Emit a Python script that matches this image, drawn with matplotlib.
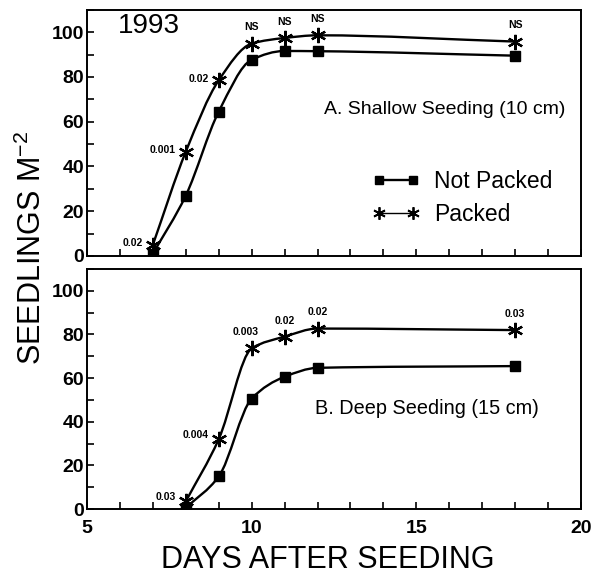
import numpy as np
import matplotlib.pyplot as plt
from matplotlib.path import Path
from matplotlib.patches import PathPatch
from matplotlib.lines import Line2D
from matplotlib.ticker import MultipleLocator

plt.rcParams['font.family'] = ['Liberation Sans', 'DejaVu Sans']

# shallow seeding (10 cm)
days_a = [7, 8, 9, 10, 11, 12, 18]
notpacked_a = [1, 27, 64.5, 87.7, 91.6, 91.5, 89.5]
packed_a = [5, 46.6, 78.5, 94.9, 97.4, 98.6, 95.8]
labels_a = ['0.02', '0.001', '0.02', 'NS', 'NS', 'NS', 'NS']

# deep seeding (15 cm)
days_b = [8, 9, 10, 11, 12, 18]
notpacked_b = [0.5, 14.9, 50.6, 60.6, 64.7, 65.5]
packed_b = [3.5, 32, 73.6, 79, 82.7, 82]
labels_b = ['0.03', '0.004', '0.003', '0.02', '0.02', '0.03']


def smooth_line(ax, x, y):
    # monotone cubic bezier through the data points
    x = np.asarray(x, float)
    y = np.asarray(y, float)
    h = np.diff(x)
    d = np.diff(y) / h
    m = np.zeros_like(y)
    m[0], m[-1] = d[0], d[-1]
    for i in range(1, len(x) - 1):
        if d[i - 1] * d[i] <= 0:
            m[i] = 0
        else:
            w1 = 2 * h[i] + h[i - 1]
            w2 = h[i] + 2 * h[i - 1]
            m[i] = (w1 + w2) / (w1 / d[i - 1] + w2 / d[i])
    verts = [(x[0], y[0])]
    codes = [Path.MOVETO]
    for i in range(len(x) - 1):
        verts += [(x[i] + h[i] / 3, y[i] + m[i] * h[i] / 3),
                  (x[i + 1] - h[i] / 3, y[i + 1] - m[i + 1] * h[i] / 3),
                  (x[i + 1], y[i + 1])]
        codes += [Path.CURVE4] * 3
    ax.add_patch(PathPatch(Path(verts, codes), fill=False, lw=1.7,
                           edgecolor='black', capstyle='round'))


star = (6, 2, 0)

fig = plt.figure(figsize=(5.94, 5.76), dpi=100)
ax1 = fig.add_axes([0.1465, 0.5556, 0.8315, 0.4274])
ax2 = fig.add_axes([0.1465, 0.1163, 0.8315, 0.4167])

for ax, days, npk, pk in [(ax1, days_a, notpacked_a, packed_a),
                           (ax2, days_b, notpacked_b, packed_b)]:
    smooth_line(ax, days, npk)
    smooth_line(ax, days, pk)
    ax.plot(days, npk, ls='none', marker='s', ms=6.5, color='black')
    ax.plot(days, pk, ls='none', marker=star, ms=11, mew=1.6, color='black')
    ax.set_xlim(5, 20)
    ax.set_ylim(0, 110)
    ax.xaxis.set_major_locator(MultipleLocator(5))
    ax.xaxis.set_minor_locator(MultipleLocator(1))
    ax.set_yticks([0, 20, 40, 60, 80, 100])
    ax.yaxis.set_minor_locator(MultipleLocator(10))
    ax.tick_params(which='both', direction='in', top=False, right=False,
                   width=1.2, length=5)
    ax.tick_params(which='major', labelsize=14)
    ax.tick_params(axis='y', pad=2)
    ax.tick_params(axis='x', pad=8)
    for s in ax.spines.values():
        s.set_linewidth(1.4)
    for lab in ax.get_xticklabels() + ax.get_yticklabels():
        lab.set_fontweight('bold')

ax1.tick_params(axis='x', which='both', labelbottom=False)

# significance labels, packed series
ann = dict(textcoords='offset points', fontsize=7.5, fontweight='bold')
for d, v, t in zip(days_a, packed_a, labels_a):
    if t == 'NS':
        ax1.annotate(t, (d, v), xytext=(0, 8), ha='center', va='bottom', **ann)
    else:
        ax1.annotate(t, (d, v), xytext=(-7, 1), ha='right', va='center', **ann)
for i, (d, v, t) in enumerate(zip(days_b, packed_b, labels_b)):
    if i < 2:
        ax2.annotate(t, (d, v), xytext=(-7, 3), ha='right', va='center', **ann)
    elif i == 2:
        ax2.annotate(t, (d, v), xytext=(-4, 8), ha='center', va='bottom', **ann)
    else:
        ax2.annotate(t, (d, v), xytext=(0, 8), ha='center', va='bottom', **ann)

ax1.text(0.063, 0.935, '1993', transform=ax1.transAxes, fontsize=20,
         ha='left', va='center')
ax1.text(0.968, 0.595, 'A. Shallow Seeding (10 cm)', transform=ax1.transAxes,
         fontsize=14, ha='right', va='center')
ax2.text(0.688, 0.42, 'B. Deep Seeding (15 cm)', transform=ax2.transAxes,
         fontsize=14.3, ha='center', va='center')

handles = [Line2D([], [], color='black', lw=1.7, marker='s', ms=5.5),
           Line2D([], [], color='black', lw=1.0, marker=star, ms=9, mew=1.3)]
ax1.legend(handles, ['Not Packed', 'Packed'], loc='center left',
           bbox_to_anchor=(0.535, 0.235), frameon=False, fontsize=16.5,
           numpoints=2, handlelength=2.1, handletextpad=0.6,
           labelspacing=0.45)

fig.text(0.054, 0.569, 'SEEDLINGS M$^{\\mathregular{-2}}$', rotation=90,
         fontsize=22, ha='center', va='center')
fig.text(0.551, 0.027, 'DAYS AFTER SEEDING', fontsize=22,
         ha='center', va='center')

fig.savefig('out.png', dpi=100)
